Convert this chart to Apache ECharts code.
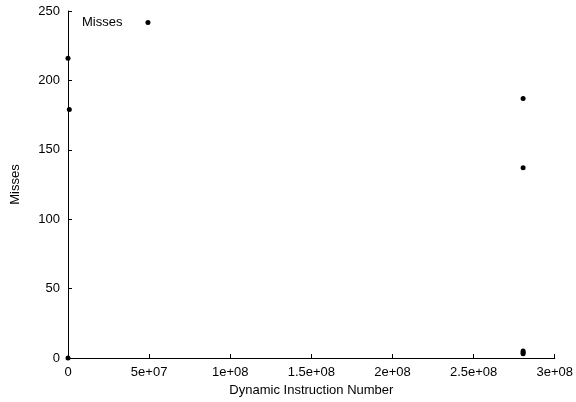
<!DOCTYPE html>
<html>
<head>
<meta charset="utf-8">
<script src="https://cdn.jsdelivr.net/npm/echarts@6/dist/echarts.min.js"></script>
<style>html,body{margin:0;padding:0;background:#fff}#c{width:576px;height:402px}</style>
</head>
<body>
<div id="c"></div>
<script>
const seriesName = "Misses";
const xValues = [0, 0, 0.8e6, 2.805e8, 2.805e8, 2.805e8, 2.805e8, 2.805e8];
const yValues = [0, 216, 179, 187, 137, 5, 4, 3];
const xTickLabels = {0:"0",50000000:"5e+07",100000000:"1e+08",150000000:"1.5e+08",200000000:"2e+08",250000000:"2.5e+08",300000000:"3e+08"};

const font = "Liberation Sans, Arial, sans-serif";
const fs = 13;
const chart = echarts.init(document.getElementById('c'), null, {renderer:'canvas'});
chart.setOption({
  animation:false,
  backgroundColor:'#fff',
  grid:{left:68,right:19,top:11,bottom:42,containLabel:false},
  legend:{
    show:true, left:82, top:16, padding:0, align:'right', orient:'vertical',
    itemWidth:5, itemHeight:5, icon:'circle',
    textStyle:{fontFamily:font,fontSize:fs,color:'#000',padding:[0,18,0,0]},
    data:[seriesName]
  },
  xAxis:{
    type:'value', min:0, max:3e8, interval:5e7,
    name:'Dynamic Instruction Number', nameLocation:'middle', nameGap:26,
    nameTextStyle:{fontFamily:font,fontSize:fs,color:'#000'},
    axisLine:{show:true,onZero:false,lineStyle:{color:'#000',width:1}},
    axisTick:{show:true,inside:true,length:4,lineStyle:{color:'#000'}},
    axisLabel:{fontFamily:font,fontSize:fs,color:'#000',margin:8,formatter:v=>xTickLabels[v]!==undefined?xTickLabels[v]:String(v)},
    splitLine:{show:false}
  },
  yAxis:{
    type:'value', min:0, max:250, interval:50,
    name:'Misses', nameLocation:'middle', nameGap:46, nameRotate:90,
    nameTextStyle:{fontFamily:font,fontSize:fs,color:'#000'},
    axisLine:{show:true,onZero:false,lineStyle:{color:'#000',width:1}},
    axisTick:{show:true,inside:true,length:4,lineStyle:{color:'#000'}},
    axisLabel:{fontFamily:font,fontSize:fs,color:'#000',margin:8},
    splitLine:{show:false}
  },
  series:[{
    name:seriesName, type:'scatter', symbol:'circle', symbolSize:5,
    itemStyle:{color:'#000',opacity:1},
    data:xValues.map((x,i)=>[x,yValues[i]])
  }]
});
</script>
</body>
</html>
